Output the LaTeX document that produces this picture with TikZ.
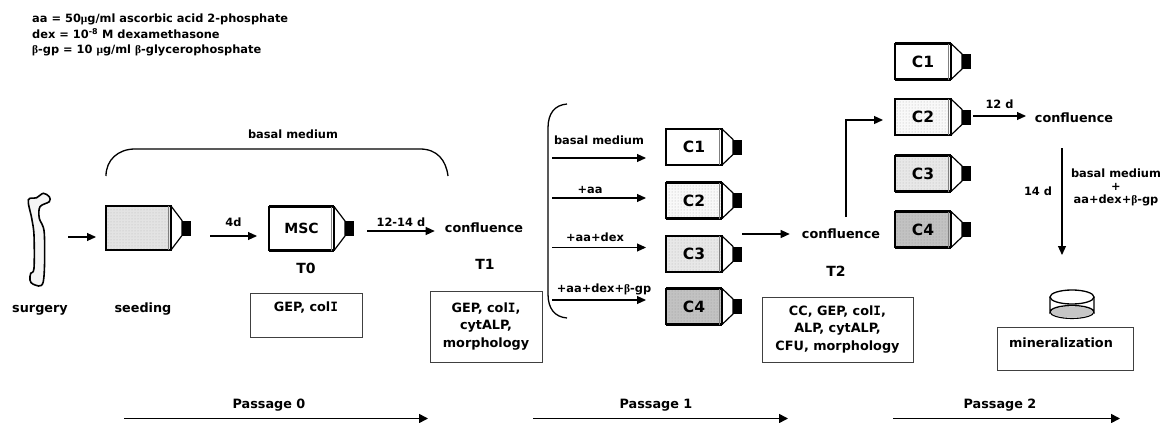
\documentclass[tikz,border=0pt]{standalone}
\usepackage{fontspec}
\setmainfont{DejaVu Sans}
\newfontfamily\grk{Liberation Serif}
\newfontfamily\capfont{DejaVu Sans Mono}
\usetikzlibrary{calc,arrows.meta,patterns}

\newcommand{\bt}{{\grk\bfseries β}}
\newcommand{\mug}{{\grk\bfseries μ}}
\newcommand{\capi}{{\capfont\bfseries I}}
\newcommand{\flask}[4][]{%
  \node[flaskbody,fill=#4,#1] (#2) at (#3) {};
  \fill[black] ($(#2.east)+(11,-7.5)$) rectangle ($(#2.east)+(20,7.5)$);
  \draw[line width=1.2pt,line join=round] (#2.north east) -- ($(#2.east)+(11,-7.5)$)
    -- ($(#2.east)+(11,7.5)$) -- (#2.south east);
  \draw[line width=2.6pt] (#2.north west) -- (#2.north east) (#2.south west) -- (#2.south east);
  \draw[gray,line width=0.9pt] ($(#2.north east)+(-2.8,0)$) -- ($(#2.south east)+(-2.8,0)$);
}

\tikzset{
  flaskbody/.style={draw,line width=1.5pt,minimum width=56pt,minimum height=36pt,inner sep=0pt,outer sep=0pt},
  bigflask/.style={minimum width=65pt,minimum height=44pt},
  flasktxt/.style={font=\fontsize{15.5}{17}\selectfont\bfseries},
  lbl/.style={font=\fontsize{11.4}{13}\selectfont\bfseries,align=center,inner sep=0pt},
  lblbig/.style={font=\fontsize{12.8}{17.5}\selectfont\bfseries,align=center,inner sep=0pt},
  tlbl/.style={font=\fontsize{14}{16}\selectfont\bfseries,inner sep=0pt},
  passlbl/.style={font=\fontsize{12.8}{14}\selectfont\bfseries,inner sep=0pt},
  infobox/.style={draw=black!75,line width=0.9pt,inner sep=0pt,minimum width=#1},
  arr/.style={-{Triangle[length=9pt,width=8pt]},line width=1.1pt},
  curlyln/.style={line width=1.3pt},
  passarr/.style={-{Triangle[length=9pt,width=9pt]},line width=1.6pt},
}

\begin{document}
\begin{tikzpicture}[x=1pt,y=-1pt]
  \useasboundingbox (0,0) rectangle (1165,423);

  \node[lbl,anchor=north west,align=left,font=\fontsize{11.4}{15.5}\selectfont\bfseries] (legend) at (32,14)
    {aa = 50\mug g/ml ascorbic acid 2-phosphate\\
     dex = 10\textsuperscript{-8} M dexamethasone\\
     \bt-gp = 10 \mug g/ml \bt-glycerophosphate};

  \draw[line width=1.6pt,fill=gray!8] plot[smooth cycle,tension=0.55] coordinates {
    (28.3,200) (36.7,197.7) (43.3,193.3) (49.3,196.7) (49.3,201.7) (40,206.7) (39.3,218.3)
    (44.3,233.3) (43.3,281.7) (33.3,284.3) (30,280) (30.7,273.3) (34,268.3) (34,235) (31.7,218.3)};
  \node[lblbig] (surgery) at (40,310) {surgery};
  \node[lblbig] (seeding) at (143,309) {seeding};

  \flask[bigflask,preaction={fill=gray!22},pattern=dots,pattern color=gray!55]{seedflask}{138.5,228}{gray!22}
  \flask[bigflask]{mscflask}{301.5,228.5}{white}
  \node[flasktxt,font=\fontsize{14}{16}\selectfont\bfseries] (msc) at (mscflask) {MSC};
  \node[tlbl] (tzero) at (306,268) {T0};
  \node[tlbl] (tone) at (485,264) {T1};
  \node[tlbl] (ttwo) at (836,271) {T2};

  \coordinate (surgeryend) at (68,237);
  \coordinate (seedin) at (96,237);
  \draw[arr] (surgeryend) -- (seedin);
  \coordinate (seedout) at (210,236);
  \coordinate (mscin) at (257,236);
  \draw[arr] (seedout) -- node[lbl,above=9pt] (fourd) {4d} (mscin);
  \coordinate (mscout) at (367,231);
  \node[lblbig] (conflone) at (484,228) {confluence};
  \draw[arr,shorten >=10pt] (mscout) -- node[lbl,above=4pt,xshift=-5pt] (twelvefourteen) {12-14 d} (conflone.west |- mscout);

  \coordinate (basalleft) at (106,176);
  \coordinate (basalright) at (448,176);
  \draw[curlyln] (basalleft) .. controls (106,160) and (118,149) .. (135,149) -- (420,149)
    .. controls (437,149) and (446,160) .. (basalright);
  \node[lbl] (basaltop) at (293,134) {basal medium};

  \node[infobox=112pt,minimum height=44pt] (boxtzero) at (306,315) {};
  \node[lblbig] (boxtzerotxt) at (306,308) {GEP, col\capi};
  \node[lblbig,infobox=112pt,minimum height=71pt] (boxtone) at (486,326.5) {GEP, col\capi,\\cytALP,\\morphology};

  \coordinate (curlytop) at (567,104);
  \coordinate (curlybot) at (567,318);
  \draw[curlyln] (curlytop) .. controls (555,105) and (548,113) .. (548,128) -- (548,294)
    .. controls (548,309) and (555,317) .. (curlybot);

  \flask{cone}{694,147}{white}
  \flask[preaction={fill=gray!5},pattern=dots,pattern color=gray!60]{ctwo}{694,200.5}{gray!5}
  \flask[preaction={fill=gray!18},pattern=dots,pattern color=gray!60]{cthree}{694,254}{gray!18}
  \flask[preaction={fill=gray!48},pattern=dots,pattern color=gray!80]{cfour}{694,306.5}{gray!48}
  \foreach \fl/\txt in {cone/C1,ctwo/C2,cthree/C3,cfour/C4}
    \node[flasktxt] at (\fl) {\txt};

  \coordinate (basalstart) at (552,158);
  \coordinate (aastart) at (552,198);
  \coordinate (dexstart) at (552,247.5);
  \coordinate (gpstart) at (552,300);
  \draw[arr] (basalstart) -- (646,158);
  \draw[arr] (aastart) -- (646,198);
  \draw[arr] (dexstart) -- (646,247.5);
  \draw[arr] (gpstart) -- (646,300);
  \node[lbl] (basaltxt) at (599,140) {basal medium};
  \node[lbl] (aatxt) at (590,190) {+aa};
  \node[lbl] (dextxt) at (595,237) {+aa+dex};
  \node[lbl] (gptxt) at (604,289) {+aa+dex+\bt-gp};

  \coordinate (ttwoin) at (742,234);
  \node[lblbig] (confltwo) at (841,234) {confluence};
  \draw[arr,shorten >=12pt] (ttwoin) -- (confltwo.west);
  \node[lblbig,infobox=151pt,minimum height=65pt] (boxttwo) at (837.5,329.5) {CC, GEP, col\capi,\\ALP, cytALP,\\CFU, morphology};

  \flask{rone}{923,61.5}{white}
  \flask[preaction={fill=gray!5},pattern=dots,pattern color=gray!60]{rtwo}{923,117}{gray!5}
  \flask[preaction={fill=gray!18},pattern=dots,pattern color=gray!60]{rthree}{923,173.5}{gray!18}
  \flask[preaction={fill=gray!48},pattern=dots,pattern color=gray!80]{rfour}{923,229.5}{gray!48}
  \foreach \fl/\txt in {rone/C1,rtwo/C2,rthree/C3,rfour/C4}
    \node[flasktxt] at (\fl) {\txt};

  \coordinate (ttwoup) at (846,217);
  \coordinate (rtwoin) at (883,120);
  \draw[arr,line width=1.3pt] (ttwoup) |- (rtwoin);

  \coordinate (rtwoout) at (973,116);
  \coordinate (conflin) at (1026,116);
  \draw[arr] (rtwoout) -- node[lbl,above=7pt] (twelved) {12 d} (conflin);
  \node[lblbig] (conflthree) at (1074,118) {confluence};

  \coordinate (minstart) at (1062,148);
  \coordinate (minend) at (1062,255);
  \draw[arr] (minstart) -- (minend);
  \node[lbl] (fourteend) at (1038,191) {14 d};
  \node[lbl] (mintxt) at (1116,187) {basal medium\\+\\aa+dex+\bt-gp};

  \fill[gray!45] (1072,312) ellipse (21 and 5.5);
  \draw[line width=1.3pt] (1050,297) -- (1050,312) arc (180:360:22 and 6.5) -- (1094,297);
  \draw[line width=1.1pt] (1050,312) arc (180:0:22 and 6.5);
  \draw[line width=1.3pt,fill=white] (1072,297) ellipse (22 and 7);

  \node[infobox=136pt,minimum height=43pt] (boxmin) at (1065,348.5) {};
  \node[lblbig] (boxmintxt) at (1061,343) {mineralization};

  \coordinate (pzeroa) at (124,418.5);
  \coordinate (pzerob) at (428,418.5);
  \coordinate (ponea) at (533,418.5);
  \coordinate (poneb) at (788,418.5);
  \coordinate (ptwoa) at (893,418.5);
  \coordinate (ptwob) at (1120,418.5);
  \draw[passarr] (pzeroa) -- (pzerob);
  \draw[passarr] (ponea) -- (poneb);
  \draw[passarr] (ptwoa) -- (ptwob);
  \node[passlbl] (pzerotxt) at (269,405) {Passage 0};
  \node[passlbl] (ponetxt) at (656,405) {Passage 1};
  \node[passlbl] (ptwotxt) at (1000,405) {Passage 2};
\end{tikzpicture}
\end{document}
